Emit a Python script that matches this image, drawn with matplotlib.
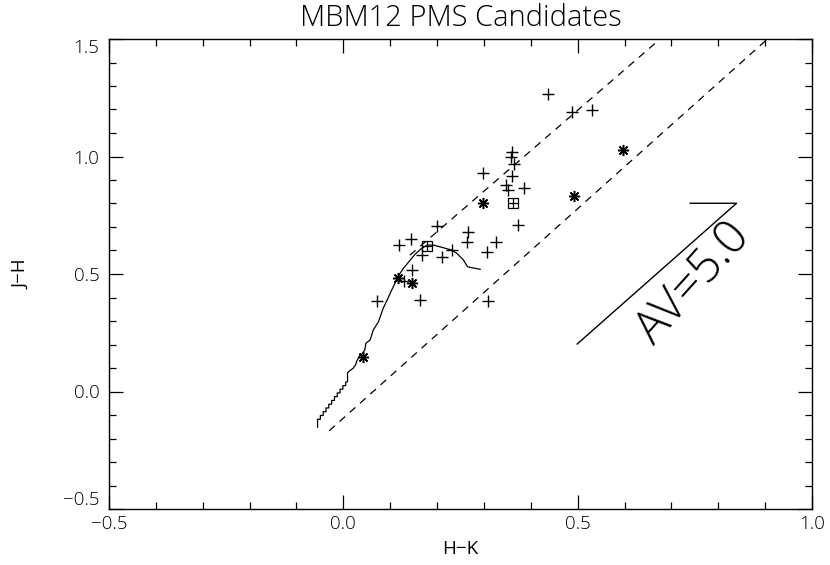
import matplotlib
matplotlib.use("Agg")
import matplotlib.pyplot as plt
from matplotlib.ticker import MultipleLocator

# ---- data (H-K, J-H) ----
plus_hk = [0.437, 0.488, 0.530, 0.360, 0.358, 0.364, 0.299, 0.359, 0.347, 0.352,
           0.386, 0.373, 0.199, 0.267, 0.263, 0.326, 0.144, 0.119, 0.231, 0.306,
           0.167, 0.211, 0.147, 0.130, 0.071, 0.164, 0.309]
plus_jh = [1.268, 1.190, 1.196, 1.018, 1.000, 0.970, 0.930, 0.918, 0.880, 0.858,
           0.866, 0.709, 0.704, 0.677, 0.637, 0.637, 0.648, 0.625, 0.602, 0.594,
           0.582, 0.574, 0.517, 0.470, 0.385, 0.389, 0.386]

star_hk = [0.297, 0.597, 0.492, 0.117, 0.147, 0.043]
star_jh = [0.801, 1.028, 0.832, 0.484, 0.463, 0.146]

box_hk = [0.361, 0.178]
box_jh = [0.803, 0.620]

# intrinsic sequence (solid curve)
seq_hk = [-0.055, -0.055, -0.049, -0.049, -0.043, -0.043, -0.037, -0.037, -0.031, -0.031,
          -0.025, -0.025, -0.019, -0.019, -0.013, -0.013, -0.007, -0.007, -0.001, -0.001,
          0.005, 0.005, 0.009, 0.009, 0.014, 0.021,
          0.026, 0.029, 0.036, 0.041, 0.046, 0.048, 0.057, 0.064, 0.075, 0.085,
          0.094, 0.100, 0.110, 0.119, 0.128, 0.139, 0.153, 0.167, 0.179, 0.192,
          0.213, 0.231, 0.242, 0.256, 0.265, 0.274, 0.292]
seq_jh = [-0.152, -0.118, -0.118, -0.102, -0.102, -0.086, -0.086, -0.070, -0.070, -0.054,
          -0.054, -0.038, -0.038, -0.022, -0.022, -0.006, -0.006, 0.010, 0.010, 0.025,
          0.025, 0.040, 0.042, 0.080, 0.089, 0.099,
          0.113, 0.131, 0.155, 0.162, 0.178, 0.205, 0.219, 0.262, 0.297, 0.354,
          0.392, 0.418, 0.460, 0.496, 0.524, 0.550, 0.584, 0.609, 0.623, 0.623,
          0.612, 0.602, 0.588, 0.560, 0.531, 0.527, 0.520]

# reddening band (dashed)
upper_hk = [0.142, 0.676]
upper_jh = [0.580, 1.500]
lower_hk = [-0.030, 0.905]
lower_jh = [-0.167, 1.500]

# reddening vector Av = 5
av_hk = [0.499, 0.839, 0.740]
av_jh = [0.202, 0.801, 0.801]
av_label = "AV=5.0"

title = "MBM12 PMS Candidates"
xlabel = "H\u2212K"
ylabel = "J\u2212H"
xticks = [-0.5, 0.0, 0.5, 1.0]
yticks = [-0.5, 0.0, 0.5, 1.0, 1.5]
xlim = (-0.5, 1.0)
ylim = (-0.5, 1.5)

# ---- figure ----
plt.rcParams['font.family'] = ['Open Sans', 'DejaVu Sans']
plt.rcParams['font.weight'] = 'light'
plt.rcParams['axes.unicode_minus'] = True
fig = plt.figure(figsize=(8.30, 5.65), dpi=100)
ax = fig.add_axes([109/830, 1 - 509/565, (812 - 109)/830, (509 - 39)/565])

ax.plot(seq_hk, seq_jh, color='black', lw=0.9)
ax.plot(upper_hk, upper_jh, color='black', lw=0.9, ls=(0, (6, 5)))
ax.plot(lower_hk, lower_jh, color='black', lw=0.9, ls=(0, (6, 5)))
ax.plot(av_hk, av_jh, color='black', lw=1.0)

ax.plot(plus_hk, plus_jh, ls='none', marker='+', ms=9, mew=1.0, color='black')
ax.plot(star_hk, star_jh, ls='none', marker=(8, 2, 0), ms=8, mew=1.1, color='black')
ax.plot(box_hk, box_jh, ls='none', marker='s', ms=7, mew=0.9, mfc='none', mec='black')
ax.plot(box_hk, box_jh, ls='none', marker='+', ms=7, mew=0.9, color='black')

ax.text(0.748, 0.458, av_label, rotation=48, rotation_mode='anchor',
        ha='center', va='center', fontsize=34, color='black', fontweight='light')

ax.set_xlim(*xlim)
ax.set_ylim(*ylim)
ax.set_xticks(xticks)
ax.set_yticks(yticks)
ax.set_xticklabels([f"{v:.1f}".replace('-', '\u2212') for v in xticks])
ax.set_yticklabels([f"{v:.1f}".replace('-', '\u2212') for v in yticks])
ax.xaxis.set_minor_locator(MultipleLocator(0.1))
ax.yaxis.set_minor_locator(MultipleLocator(0.1))
ax.tick_params(which='both', direction='in', top=True, right=True, width=0.9, color='black')
ax.tick_params(which='major', length=10, labelsize=13.5)
ax.tick_params(which='minor', length=5)
ax.tick_params(axis='x', pad=4)
ax.tick_params(axis='y', pad=7)
for sp in ax.spines.values():
    sp.set_linewidth(1.0)

yt = ax.yaxis.get_major_ticks()
yt[0].label1.set_verticalalignment('bottom')
yt[-1].label1.set_verticalalignment('top')

ax.set_title(title, fontsize=21, pad=9, fontweight='light')
ax.set_xlabel(xlabel, fontsize=13.5)
ax.set_ylabel(ylabel, fontsize=13.5)
ax.xaxis.set_label_coords(0.5, -0.066)
ax.yaxis.set_label_coords(-0.112, 0.5)

fig.savefig("out.png", dpi=100)
